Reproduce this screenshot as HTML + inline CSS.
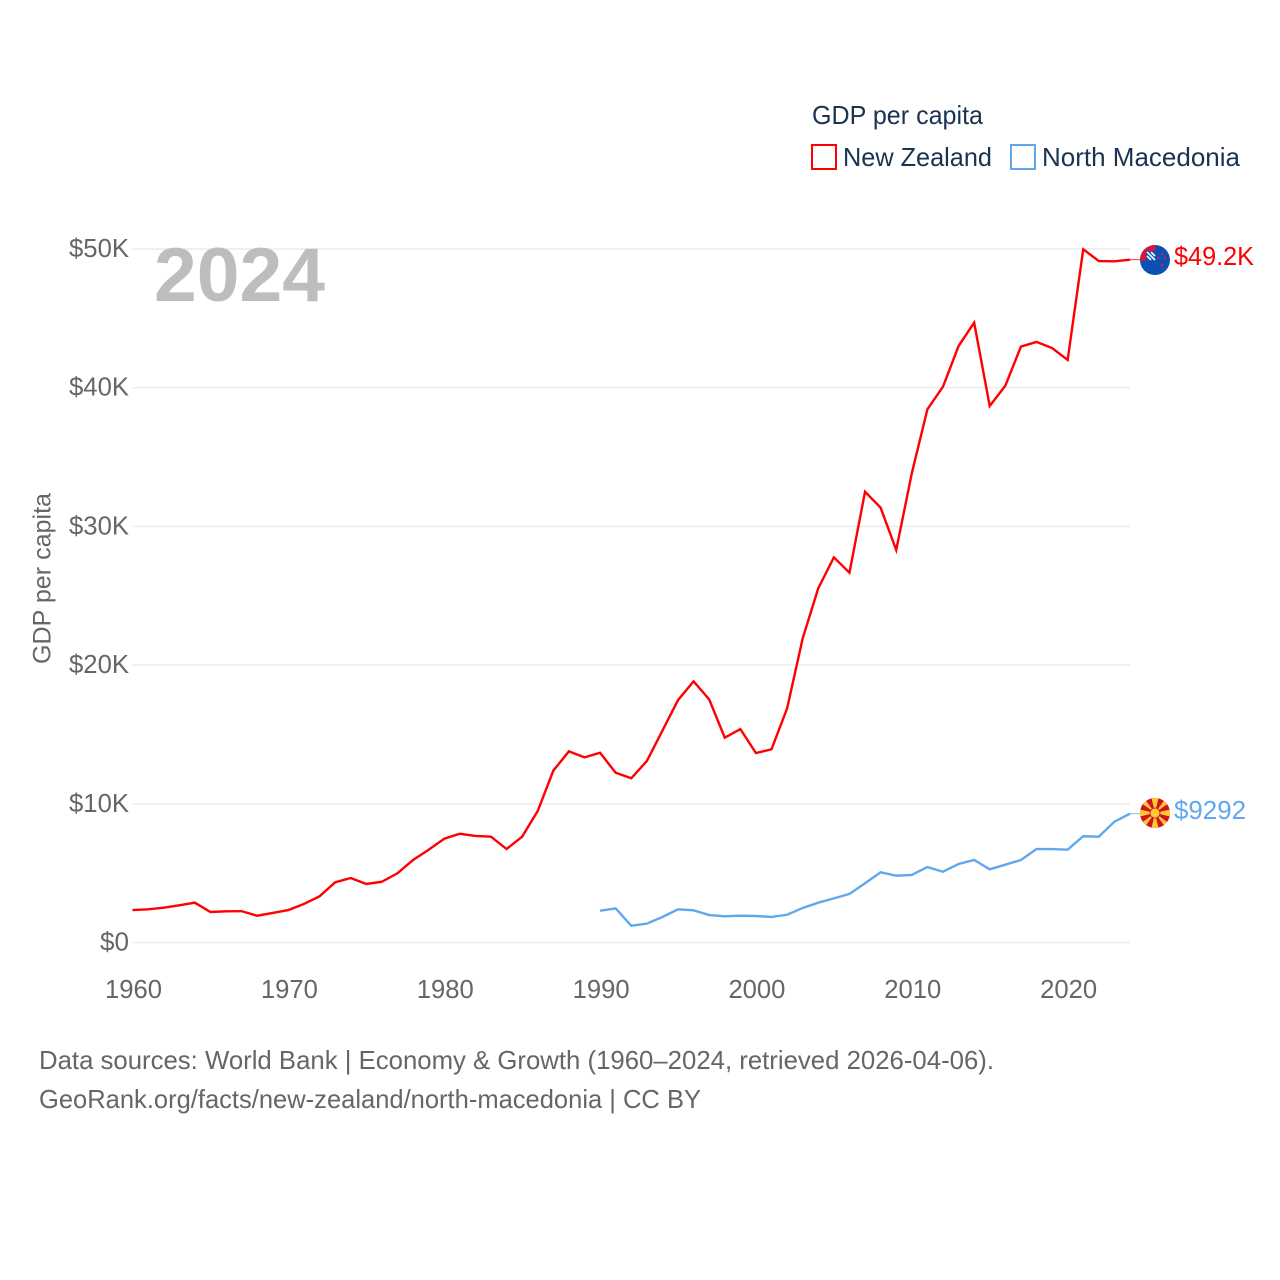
<!DOCTYPE html>
<html lang="en">
<head>
<meta charset="utf-8">
<title>GDP per capita: New Zealand and North Macedonia</title>
<style>
html,body{margin:0;padding:0;background:#fff;width:1280px;height:1280px;overflow:hidden}
svg{display:block;font-family:"Liberation Sans",sans-serif}
</style>
</head>
<body>
<svg id="chart" width="1280" height="1280" viewBox="0 0 1280 1280" xmlns="http://www.w3.org/2000/svg">
  <g id="grid"></g>
  <g id="yticks"></g>
  <g id="xticks"></g>
  <text transform="translate(50.5,664) rotate(-90)" font-size="25" fill="#666" textLength="171" lengthAdjust="spacingAndGlyphs">GDP per capita</text>
  <text x="154" y="301" font-size="76" font-weight="700" fill="#bdbdbd" textLength="171" lengthAdjust="spacingAndGlyphs">2024</text>
  <g id="series"></g>

  <g>
    <text x="812" y="124" font-size="26" fill="#1a3352" textLength="171" lengthAdjust="spacingAndGlyphs">GDP per capita</text>
    <g>
      <rect x="812" y="145" width="24" height="24" fill="#fff" stroke="#ff0000" stroke-width="2"/>
      <text x="843" y="166" font-size="26" fill="#1a3352" textLength="149" lengthAdjust="spacingAndGlyphs">New Zealand</text>
    </g>
    <g>
      <rect x="1011" y="145" width="24" height="24" fill="#fff" stroke="#5fa8ee" stroke-width="2"/>
      <text x="1042" y="166" font-size="26" fill="#1a3352" textLength="198" lengthAdjust="spacingAndGlyphs">North Macedonia</text>
    </g>
  </g>

  <defs>
    <clipPath id="nz-clip"><circle cx="1155" cy="260" r="15"/></clipPath>
    <clipPath id="mk-clip"><circle cx="1155" cy="813" r="15"/></clipPath>
  </defs>
  <g clip-path="url(#nz-clip)">
    <rect x="1140" y="245" width="30" height="30" fill="#0b50b4"/>
    <rect x="1140" y="245" width="15.5" height="15.5" fill="#d8163a"/>
    <rect x="1146" y="251" width="9.5" height="9.5" fill="#0b50b4"/>
    <path d="M1147 252L1155 260M1147 256L1151 260M1151 252L1155 256" stroke="#fff" stroke-width="1.6" fill="none"/>
    <circle cx="1162" cy="254" r="1.2" fill="#e0173c"/>
    <circle cx="1158" cy="258" r="1.2" fill="#e0173c"/>
    <circle cx="1165" cy="258" r="1.2" fill="#e0173c"/>
    <circle cx="1162" cy="265" r="1.4" fill="#e0173c"/>
  </g>
  <g id="mk-flag" clip-path="url(#mk-clip)">
    <rect x="1140" y="798" width="30" height="30" fill="#d40f1e"/>
    <path fill="#ffc936" d="M1155 813L1151.5 798H1158.5Z M1155 813L1151.5 828H1158.5Z M1155 813L1140 809.5V816.5Z M1155 813L1170 809.5V816.5Z M1155 813L1140 802L1144 798Z M1155 813L1166 798L1170 802Z M1155 813L1140 824L1144 828Z M1155 813L1166 828L1170 824Z"/>
    <circle cx="1155" cy="813" r="5" fill="#ffc936" stroke="#d40f1e" stroke-width="0.8"/>
  </g>
  <text x="1174" y="265" font-size="26" fill="#ff0000" textLength="80" lengthAdjust="spacingAndGlyphs">$49.2K</text>
  <text x="1174" y="819" font-size="26" fill="#5fa8ee" textLength="72" lengthAdjust="spacingAndGlyphs">$9292</text>

  <g>
    <text x="39" y="1069" font-size="26" fill="#666" textLength="955" lengthAdjust="spacingAndGlyphs">Data sources: World Bank | Economy &amp; Growth (1960–2024, retrieved 2026-04-06).</text>
    <text x="39" y="1108" font-size="26" fill="#666" textLength="662" lengthAdjust="spacingAndGlyphs">GeoRank.org/facts/new-zealand/north-macedonia | CC BY</text>
  </g>
</svg>
<script>
const yTickValues = [0, 10, 20, 30, 40, 50];
const yTickLabels = ["$0", "$10K", "$20K", "$30K", "$40K", "$50K"];
const xTickValues = [1960, 1970, 1980, 1990, 2000, 2010, 2020];
const xTickLabels = ["1960", "1970", "1980", "1990", "2000", "2010", "2020"];
const nzStartYear = 1960;
const nzValues = [2.34,2.39,2.51,2.68,2.87,2.20,2.25,2.26,1.93,2.13,2.34,2.78,3.33,4.34,4.65,4.22,4.38,4.99,5.95,6.69,7.48,7.84,7.68,7.63,6.74,7.63,9.48,12.39,13.78,13.35,13.68,12.24,11.84,13.08,15.27,17.48,18.83,17.53,14.77,15.39,13.66,13.93,16.88,21.93,25.54,27.77,26.66,32.5,31.35,28.3,33.83,38.44,40.07,43.0,44.69,38.68,40.14,42.96,43.3,42.86,42.0,49.98,49.13,49.11,49.23];
const mkStartYear = 1990;
const mkValues = [2.29,2.46,1.21,1.36,1.84,2.39,2.32,1.98,1.89,1.93,1.91,1.84,2.0,2.49,2.87,3.18,3.5,4.27,5.06,4.82,4.87,5.44,5.1,5.66,5.95,5.28,5.61,5.95,6.74,6.74,6.69,7.66,7.63,8.71,9.29];

const SVGNS = "http://www.w3.org/2000/svg";
function xScale(year) { return 132.5 + (year - 1960) * (1130 - 132.5) / 64; }
function yScale(v) { return 942.5 - v * (942.5 - 249) / 50; }
function mk(tag, attrs, parent) {
  const el = document.createElementNS(SVGNS, tag);
  for (const k in attrs) el.setAttribute(k, attrs[k]);
  parent.appendChild(el);
  return el;
}
const grid = document.getElementById("grid");
const yticks = document.getElementById("yticks");
const xticks = document.getElementById("xticks");
const seriesG = document.getElementById("series");

yTickValues.forEach(function (v, i) {
  const line = mk("line", {x1: 132, x2: 1130, y1: yScale(v), y2: yScale(v), stroke: "#ececec", "stroke-width": 1.6}, grid);
  
  
  const t = mk("text", {x: 129, y: yScale(v) + 8, "text-anchor": "end", "font-size": 26, fill: "#666"}, yticks);
  
  
  t.textContent = yTickLabels[i];
  t.setAttribute("textLength", yTickLabels[i].length > 2 ? 60 : 29);
  t.setAttribute("lengthAdjust", "spacingAndGlyphs");
});
xTickValues.forEach(function (yr, i) {
  const t = mk("text", {x: xScale(yr) + 1, y: 998, "text-anchor": "middle", "font-size": 26, fill: "#666"}, xticks);
  
  
  t.textContent = xTickLabels[i];
  t.setAttribute("textLength", 57);
  t.setAttribute("lengthAdjust", "spacingAndGlyphs");
});
function linePath(start, values) {
  return values.map(function (v, i) {
    return (i ? "L" : "M") + xScale(start + i).toFixed(2) + " " + yScale(v).toFixed(2);
  }).join("");
}
function lastPoint(start, values) {
  const i = values.length - 1;
  return [xScale(start + i), yScale(values[i])];
}
const nzLine = mk("path", {d: linePath(nzStartYear, nzValues), fill: "none", stroke: "#ff0000", "stroke-width": 2.4, "stroke-linejoin": "miter"}, seriesG);


const mkLine = mk("path", {d: linePath(mkStartYear, mkValues), fill: "none", stroke: "#5fa8ee", "stroke-width": 2.4, "stroke-linejoin": "miter"}, seriesG);


const nzEnd = lastPoint(nzStartYear, nzValues);
const mkEnd = lastPoint(mkStartYear, mkValues);
const nzConn = mk("line", {x1: nzEnd[0], y1: nzEnd[1], x2: 1141, y2: nzEnd[1], stroke: "#ff0000", "stroke-width": 1, opacity: 0.8}, seriesG);


const mkConn = mk("line", {x1: mkEnd[0], y1: mkEnd[1], x2: 1141, y2: mkEnd[1], stroke: "#5fa8ee", "stroke-width": 1, opacity: 0.8}, seriesG);


</script>
</body>
</html>
